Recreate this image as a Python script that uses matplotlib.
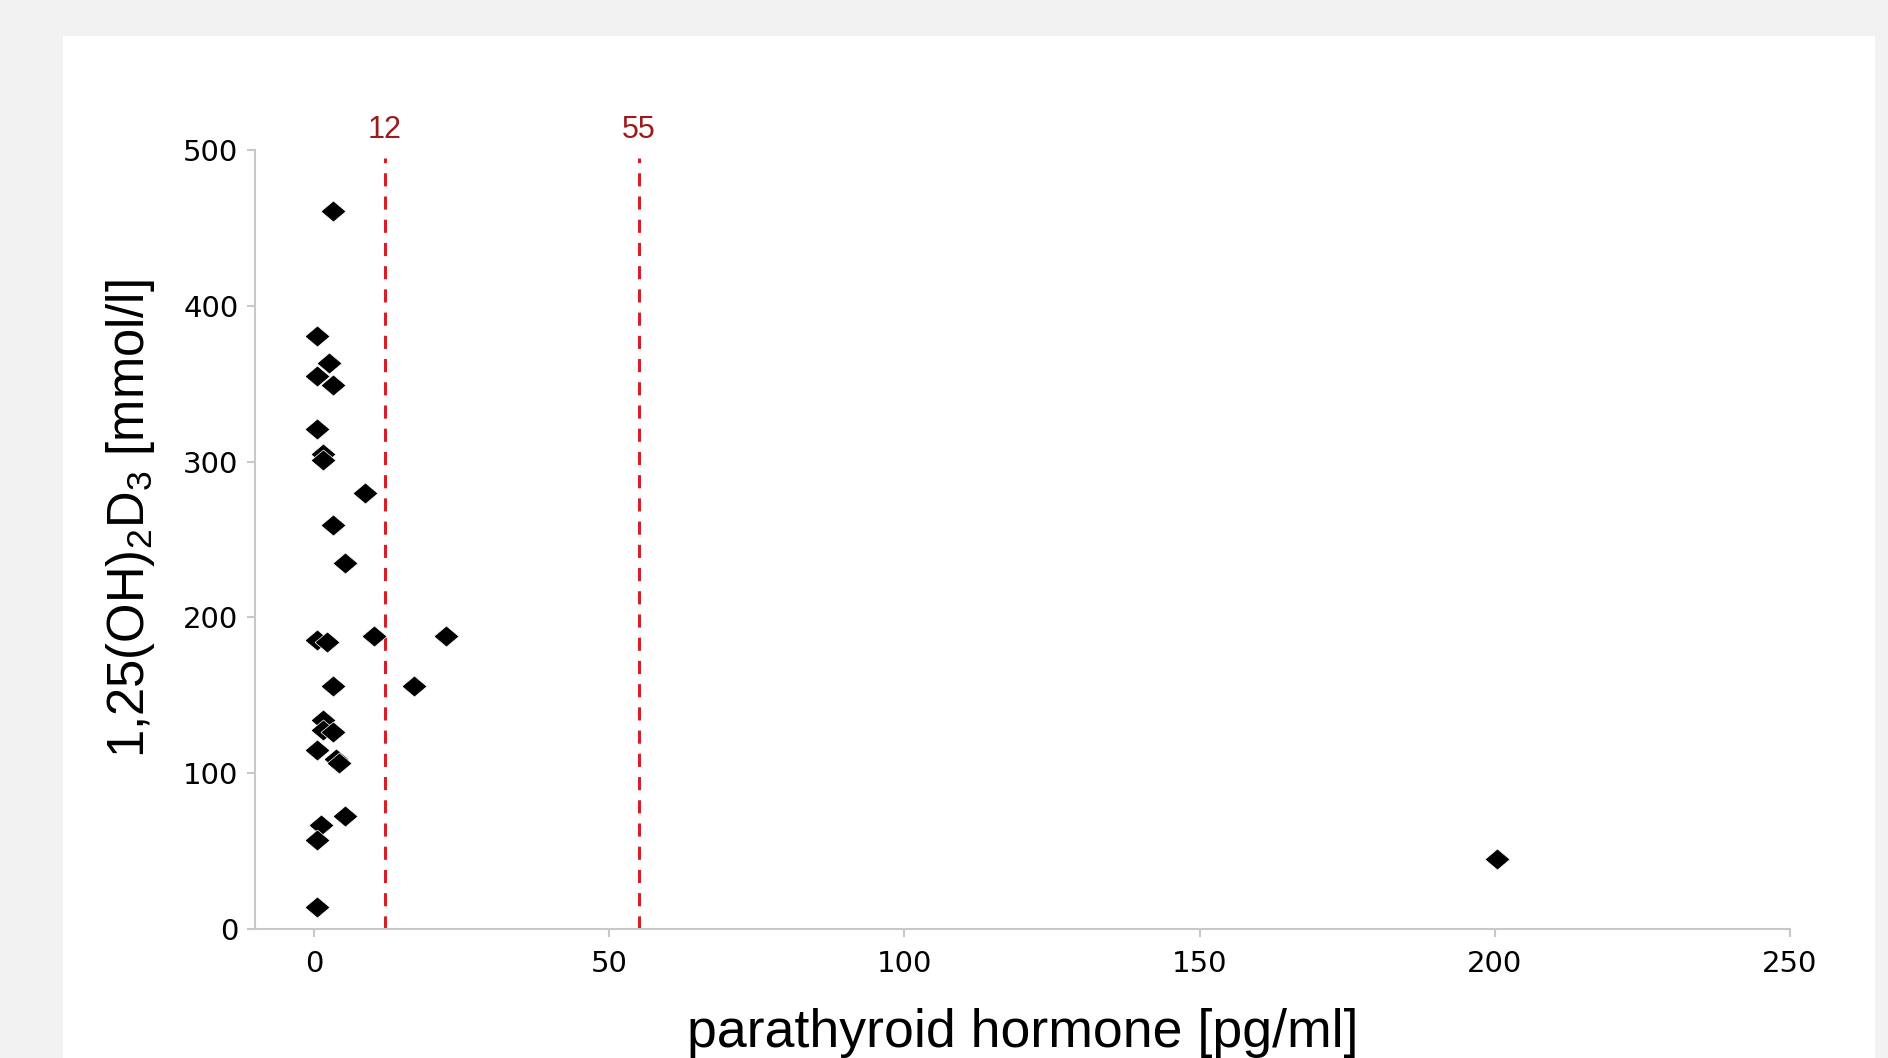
import numpy as np
import matplotlib
matplotlib.use("Agg")
import matplotlib.pyplot as plt

# values
pth = [3.2, 0.5, 2.6, 0.5, 3.2, 0.5, 1.6, 1.6, 8.6, 3.2, 5.3,
       0.5, 2.2, 10.1, 22.4, 3.2, 17.0, 1.6, 1.6, 3.2, 0.5, 3.8,
       4.2, 5.3, 1.1, 0.5, 0.5, 200.4]
vitd = [460.6, 380.7, 363, 355, 349, 321, 305, 301, 280, 259, 234.6,
        185.7, 184, 187.9, 187.9, 156, 156, 134, 127.5, 126.4, 114.6, 109,
        106.5, 72.8, 66.8, 57.2, 14, 44.8]
ref_lines = [12, 55]
xticks = [0, 50, 100, 150, 200, 250]
yticks = [0, 100, 200, 300, 400, 500]

plt.rcParams['mathtext.fontset'] = 'custom'
plt.rcParams['mathtext.rm'] = 'Liberation Sans'
plt.rcParams['mathtext.it'] = 'Liberation Sans'
plt.rcParams['mathtext.bf'] = 'Liberation Sans'

fig = plt.figure(figsize=(18.88, 10.58), dpi=100, facecolor='#f2f2f2')
# white panel behind the chart
bg = fig.add_axes([63/1888, 0, (1875-63)/1888, (1058-36)/1058], zorder=-1)
bg.set_facecolor('white')
bg.set_xticks([]); bg.set_yticks([])
for s in bg.spines.values():
    s.set_visible(False)

ax = fig.add_axes([255/1888, 1-929/1058, (1790-255)/1888, (929-150)/1058])
ax.set_facecolor('none')

# slightly wide diamond
diamond = [(-1, 0), (0, 0.84), (1, 0), (0, -0.84), (-1, 0)]
ax.plot(pth, vitd, linestyle='none', marker=diamond, markersize=18,
        color='black', mec='white', mew=0.5, zorder=3)

for v in ref_lines:
    ax.plot([v, v], [0, 495], color='#d61f26', lw=2.2,
            linestyle=(0, (4.3, 3.3)), zorder=2, clip_on=False)
    ax.text(v, 513, str(v), color='#9e1b1b', fontsize=22,
            ha='center', va='center', family='Liberation Sans')

ax.set_xlim(-10, 250)
ax.set_ylim(0, 500)
ax.set_xticks(xticks)
ax.set_yticks(yticks)
for s in ['top', 'right']:
    ax.spines[s].set_visible(False)
for s in ['left', 'bottom']:
    ax.spines[s].set_color('#c8c8c8')
    ax.spines[s].set_linewidth(1.5)
ax.tick_params(axis='both', colors='#c8c8c8', labelcolor='black',
               labelsize=21, length=6, width=1.5)
ax.tick_params(axis='x', pad=9)
ax.tick_params(axis='y', pad=6)

ax.set_xlabel('parathyroid hormone [pg/ml]', fontsize=38.6,
              family='Liberation Sans', labelpad=22)
ax.set_ylabel('1,25(OH)$_2$D$_3$ [mmol/l]', fontsize=36.5,
              family='Liberation Sans')
ax.yaxis.set_label_coords(-(255-157)/1535, (929-519)/779)

fig.savefig('out.png', dpi=100, facecolor=fig.get_facecolor())
